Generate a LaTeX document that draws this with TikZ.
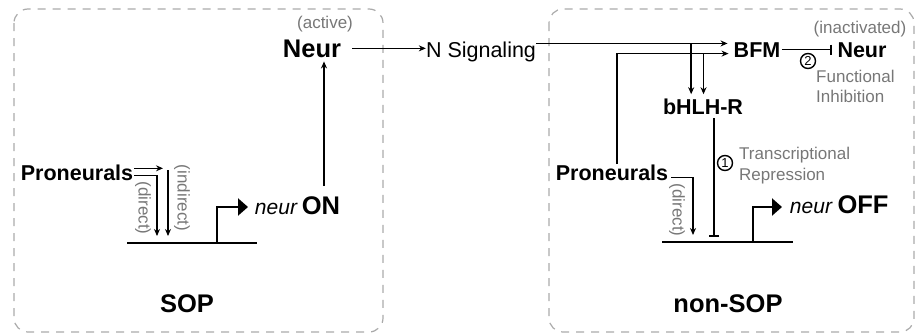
\documentclass[tikz,border=0pt]{standalone}
\usepackage{fontspec}
\setmainfont{Liberation Sans}
\usetikzlibrary{arrows.meta,calc}
\definecolor{txtgray}{HTML}{777777}
\definecolor{boxgray}{HTML}{AAAAAA}
\begin{document}
\begin{tikzpicture}[x=1pt,y=-1pt,
  lbl/.style={inner sep=0pt, anchor=base},
  big/.style={lbl, font=\fontsize{25.5}{30}\selectfont\bfseries},
  midb/.style={lbl, font=\fontsize{21.5}{26}\selectfont\bfseries},
  midr/.style={lbl, font=\fontsize{21.5}{26}\selectfont},
  ital/.style={lbl, font=\fontsize{21}{26}\selectfont\itshape},
  note/.style={lbl, font=\fontsize{17}{21}\selectfont, text=txtgray},
  vnote/.style={note, rotate=-90, anchor=center},
  conn/.style={line width=1.6pt},
  arr/.style={conn, -{Stealth[length=7pt,width=6pt]}},
  inh/.style={conn, -{Bar[width=10pt,line width=1.6pt]}},
  gene/.style={line width=2.2pt},
  prom/.style={line width=2.2pt, -{Triangle[length=10pt,width=17pt]}},
  region/.style={draw=boxgray, line width=1.2pt, dash pattern=on 8pt off 7pt, rounded corners=14pt},
  num/.style={circle, draw, line width=1.4pt, minimum size=15pt, inner sep=0pt, font=\fontsize{13}{14}\selectfont}
]
\useasboundingbox (0,0) rectangle (917,335);
\draw[region] (14,9) rectangle (383,332);
\draw[region] (549,9) rectangle (914,332);

% ---------- SOP ----------
\node[note] (act) at (325,28) {(active)};
\node[big] (neurA) at (312,57) {Neur};
\node[midr] (nsig) at (481,57) {N Signaling};
\node[midb] (proL) at (77,180) {Proneurals};
\node[ital] (neurItL) at (276,214) {neur};
\node[big] (onL) at (321,214) {ON};
\node[big] (sop) at (187,312) {SOP};
\node[vnote] (dirL) at (143,208) {(direct)};
\node[vnote] (indL) at (182,198) {(indirect)};

\coordinate (gL1) at (127,243);
\coordinate (gL2) at (257,243);
\coordinate (tssL) at (217,243);
\coordinate (pL) at (248,207);
\draw[gene] (gL1) -- (gL2);
\draw[prom] (tssL) |- (pL);

\coordinate (iL1) at ([xshift=1pt,yshift=4pt]proL.east);
\coordinate (iL2) at (163,168);
\coordinate (iL3) at (168,170);
\coordinate (iL4) at (168,236);
\coordinate (dL1) at ([xshift=1pt,yshift=-3pt]proL.east);
\coordinate (dL2) at (157,236);
\draw[arr] (iL1) -- (iL1 -| iL2);
\draw[arr] (iL3) -- (iL4);
\draw[arr] (dL1) -| (dL2);

\draw[arr, shorten <=10pt, shorten >=4pt] ([xshift=3pt]onL.north) -- ([xshift=3pt]onL.north |- neurA.south);
\draw[arr, shorten <=11pt] (neurA.east) -- (neurA.east -| nsig.west);

% ---------- non-SOP ----------
\node[note] (inact) at (860,33) {(inactivated)};
\node[midb] (bfm) at (757,57) {BFM};
\node[midb] (neurB) at (862,57) {Neur};
\node[midb] (bhlh) at (703,114) {bHLH-R};
\node[midb] (proR) at (612,180) {Proneurals};
\node[ital] (neurItR) at (811,213) {neur};
\node[big] (off) at (863,213) {OFF};
\node[big] (nsop) at (728,312) {non-SOP};
\node[vnote] (dirR) at (677,210) {(direct)};
\node[num] (n1) at (725,163) {1};
\node[num] (n2) at (808,61) {2};
\node[note, anchor=base west] (tr1) at (739,159) {Transcriptional};
\node[note, anchor=base west] (tr2) at (739,180) {Repression};
\node[note, anchor=base west] (fi1) at (816,82) {Functional};
\node[note, anchor=base west] (fi2) at (816,102) {Inhibition};

\coordinate (gR1) at (662,242);
\coordinate (gR2) at (793,242);
\coordinate (tssR) at (753,242);
\coordinate (pR) at (782,207);
\draw[gene] (gR1) -- (gR2);
\draw[prom] (tssR) |- (pR);

\coordinate (ns1) at ([yshift=8pt]nsig.east);
\coordinate (bf2) at ([yshift=-4pt]bfm.west);
\coordinate (pr1) at ([xshift=5pt]proR.north);
\draw[arr, shorten >=6pt] (ns1) -- (ns1 -| bfm.west);
\draw[arr, shorten >=5pt] (pr1) |- (bf2);

\coordinate (j1) at ($(ns1)+(155,0)$);
\coordinate (j2) at ($(bf2)+(-30,0)$);
\draw[arr, shorten >=4pt] (j1) -- (j1 |- bhlh.north);
\draw[arr, shorten >=4pt] (j2) -- (j2 |- bhlh.north);

\coordinate (rep1) at ([xshift=11pt,yshift=-4pt]bhlh.south);
\draw[inh, shorten >=5pt] (rep1) -- (rep1 |- gR1);

\draw[inh, shorten <=1.5pt, shorten >=5.5pt] (bfm.east) -- (bfm.east -| neurB.west);

\coordinate (dR1) at ([xshift=3pt,yshift=-5pt]proR.east);
\coordinate (dR2) at (693,235);
\draw[arr] (dR1) -| (dR2);
\end{tikzpicture}
\end{document}
